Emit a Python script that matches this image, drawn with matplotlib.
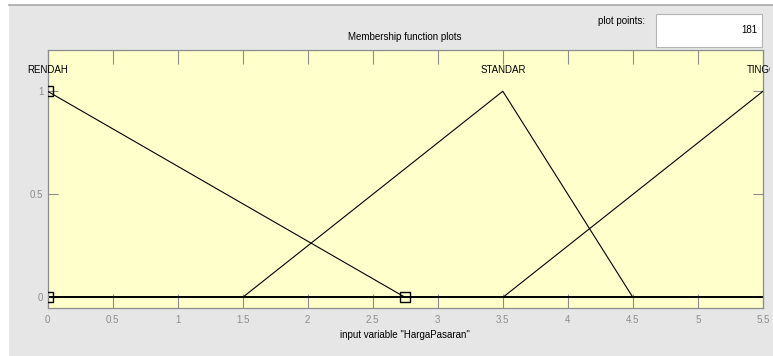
import matplotlib
matplotlib.use("Agg")
import matplotlib.pyplot as plt
from matplotlib.patches import Rectangle
from matplotlib.lines import Line2D
from matplotlib.transforms import Bbox

# Membership functions of input "HargaPasaran" (triangular, vertex lists)
mf_names = ["RENDAH", "STANDAR", "TINGGI"]
mf_x = [[0.0, 2.75], [1.5, 3.5, 4.5], [3.5, 5.5]]
mf_y = [[1.0, 0.0], [0.0, 1.0, 0.0], [0.0, 1.0]]
mf_peaks = [0.0, 3.5, 5.5]

# Vertex handles of the selected function (RENDAH)
handle_x = [0.0, 0.0, 2.75]
handle_y = [1.0, 0.0, 0.0]

x_range = [0.0, 5.5]
x_ticks = [0, 0.5, 1, 1.5, 2, 2.5, 3, 3.5, 4, 4.5, 5, 5.5]
x_ticklabels = ["0", "0.5", "1", "1.5", "2", "2.5", "3", "3.5", "4", "4.5", "5", "5.5"]
y_ticks = [0, 0.5, 1]
y_ticklabels = ["0", "0.5", "1"]
plot_points = 181
input_name = "HargaPasaran"

W, H = 773, 356
FONT = ["Liberation Sans Narrow", "Liberation Sans", "DejaVu Sans"]
FS = 7
GRAY_BG = "#e6e6e6"
TICK_GRAY = "#8c8c8c"

fig = plt.figure(figsize=(W / 100, H / 100), dpi=100)
fig.patch.set_facecolor("white")

def px(x0, y0, x1, y1):
    """Figure-fraction rectangle from pixel corners (top-left origin)."""
    return [x0 / W, 1 - y1 / H, (x1 - x0) / W, (y1 - y0) / H]

# window panel (behind the axes)
fig.patches.append(Rectangle((9 / W, 0), 1, 1 - 4.5 / H, transform=fig.transFigure,
                             facecolor=GRAY_BG, edgecolor="none", zorder=-3))
fig.lines.append(Line2D([9 / W, 1], [1 - 4.5 / H, 1 - 4.5 / H], transform=fig.transFigure,
                        color="#a8a8a8", lw=1.2, zorder=-2))

# plot points box
fig.patches.append(Rectangle((656 / W, 1 - 47 / H), (762 - 656) / W, 33 / H,
                             transform=fig.transFigure, facecolor="white",
                             edgecolor="#b4b4b4", lw=0.8, zorder=-1))
fig.text(757 / W, 1 - 30 / H, str(plot_points), ha="right", va="center",
         fontsize=FS, family=FONT, color="black")
fig.text(645 / W, 1 - 21 / H, "plot points:", ha="right", va="center",
         fontsize=FS, family=FONT, color="black")

ax = fig.add_axes(px(47.5, 50, 763, 307.7))
ax.set_zorder(1)
ax.set_facecolor("#ffffcc")
ax.set_xlim(*x_range)
ax.set_ylim(-0.05, 1.2)

# baseline
ax.axhline(0, color="black", lw=1.4, zorder=2)

for xs, ys in zip(mf_x, mf_y):
    ax.plot(xs, ys, color="black", lw=0.8, zorder=3)

ax.plot(handle_x, handle_y, linestyle="none", marker="s", markersize=7,
        markerfacecolor="none", markeredgecolor="black", markeredgewidth=1.0, zorder=4)

for name, xp in zip(mf_names, mf_peaks):
    t = ax.text(xp, 1.105, name, ha="center", va="center", fontsize=FS,
                family=FONT, color="black", clip_on=False)
    if name == mf_names[-1]:
        # the label runs past the panel edge and is cut there
        t.set_clip_box(Bbox.from_extents(0, 0, 770, H))
        t.set_clip_on(True)

ax.set_xticks(x_ticks)
ax.set_xticklabels(x_ticklabels)
ax.set_yticks(y_ticks)
ax.set_yticklabels(y_ticklabels)
ax.tick_params(axis="x", direction="in", length=10, width=0.8, color=TICK_GRAY,
               labelcolor=TICK_GRAY, labelsize=FS, top=True, pad=5)
ax.tick_params(axis="y", direction="in", length=7, width=0.8, color=TICK_GRAY,
               labelcolor=TICK_GRAY, labelsize=FS, right=True, pad=3)
for lab in ax.get_xticklabels() + ax.get_yticklabels():
    lab.set_family(FONT)
for sp in ax.spines.values():
    sp.set_color(TICK_GRAY)
    sp.set_linewidth(0.9)

ax.set_title("Membership function plots", fontsize=FS, family=FONT, pad=7)
ax.set_xlabel(f'input variable "{input_name}"', fontsize=FS, family=FONT, labelpad=4)

fig.savefig("out.png", dpi=100, facecolor=fig.get_facecolor())
